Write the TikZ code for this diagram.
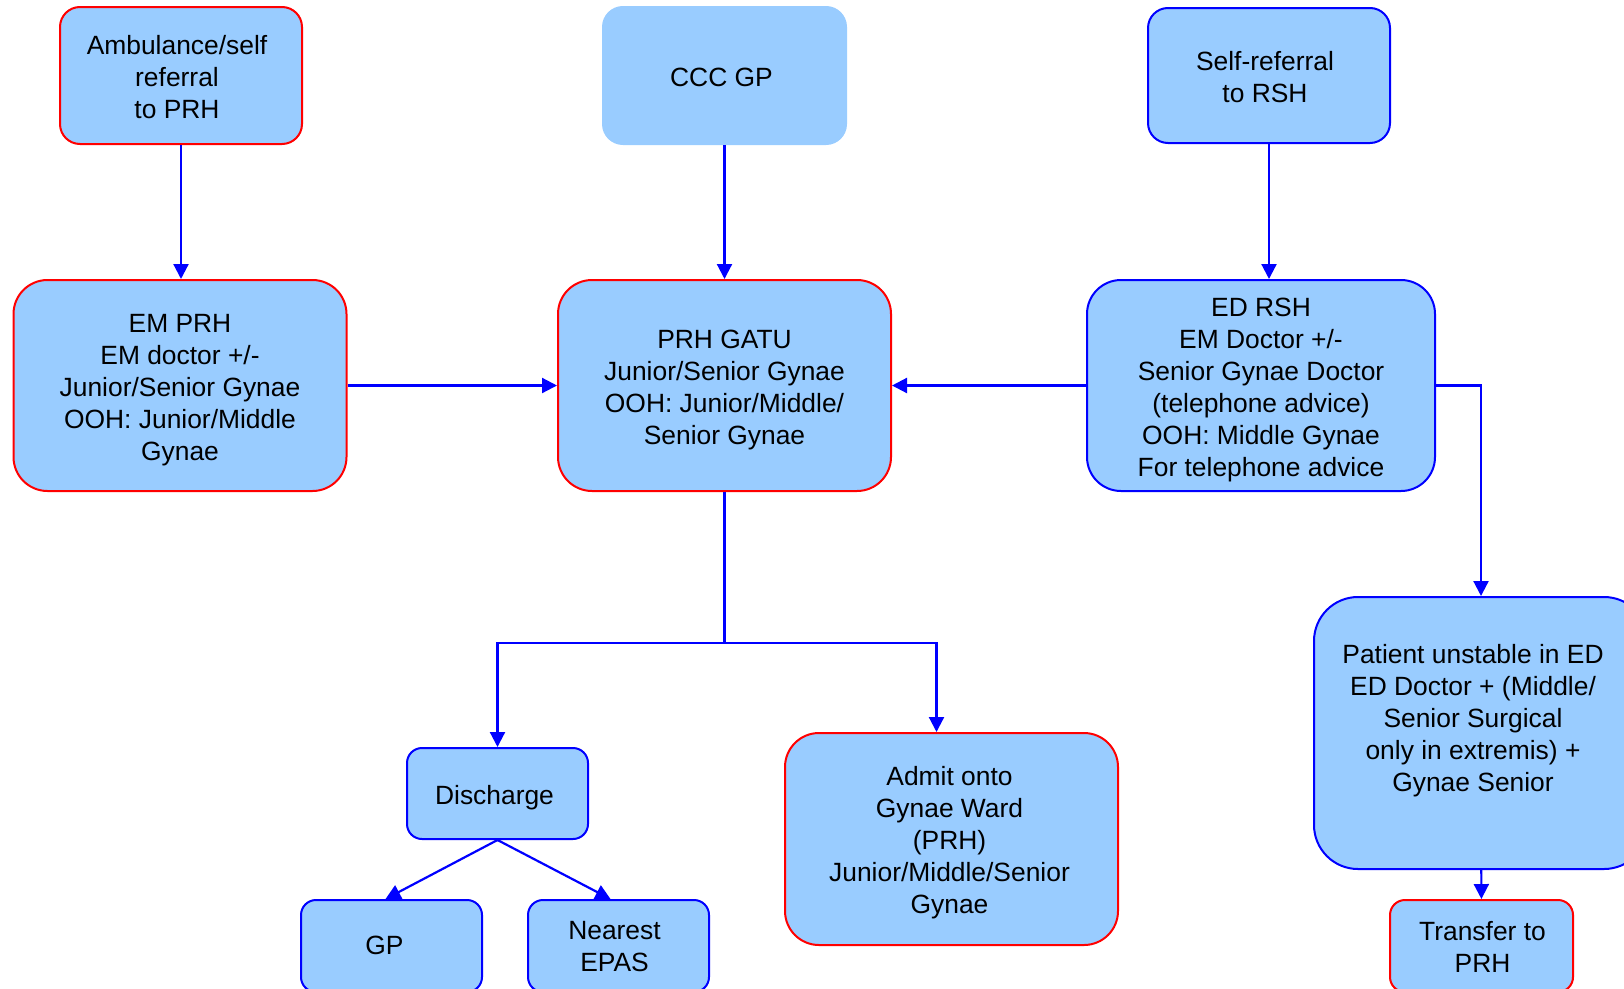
\documentclass[tikz,border=0pt]{standalone}
\usepackage{fontspec}
\setmainfont{Liberation Sans}
\usetikzlibrary{calc}
\usetikzlibrary{arrows.meta}

\definecolor{boxfill}{HTML}{99CCFF}
\definecolor{linkblue}{HTML}{0000FF}
\definecolor{edgered}{HTML}{FF0000}

\tikzset{
	box/.style={rectangle, fill=boxfill, line width=2pt, inner sep=0pt},
	redbox/.style={box, draw=edgered},
	bluebox/.style={box, draw=linkblue},
	boxtext/.style={align=center, inner sep=0pt, font=\fontsize{26.4}{32}\selectfont},
	link/.style={line width=2.2pt, draw=linkblue, -{Triangle[length=15pt,width=15pt]}}
}

\begin{document}
\begin{tikzpicture}[x=1pt,y=-1pt]

						\useasboundingbox (0,0) rectangle (1624,988);

						% top row
						\node[redbox, rounded corners=20pt, minimum width=242pt, minimum height=137pt,
							label={[boxtext, shift={(-4,2)}]center:{Ambulance/self\\referral\\to PRH}}] (amb) at (181,75.5) {};
						\node[box, draw=boxfill, rounded corners=20pt, minimum width=243pt, minimum height=137pt,
							label={[boxtext, shift={(-3,2)}]center:{CCC GP}}] (ccc) at (724.5,75.5) {};
						\node[bluebox, rounded corners=20pt, minimum width=242pt, minimum height=135pt,
							label={[boxtext, shift={(-4,2)}]center:{Self-referral\\to RSH}}] (self) at (1269,75.5) {};

						% middle row
						\node[redbox, rounded corners=34pt, minimum width=333pt, minimum height=211pt,
							label={[boxtext, shift={(0,5)}]center:{EM PRH\\EM doctor +/-\\Junior/Senior Gynae\\OOH: Junior/Middle\\Gynae}}] (emprh) at (180,385.5) {};
						\node[redbox, rounded corners=34pt, minimum width=333pt, minimum height=211pt,
							label={[boxtext, shift={(0,5)}]center:{PRH GATU\\Junior/Senior Gynae\\OOH: Junior/Middle/\\Senior Gynae}}] (gatu) at (724.5,385.5) {};
						\node[bluebox, rounded corners=34pt, minimum width=348pt, minimum height=211pt,
							label={[boxtext, shift={(0,5)}]center:{ED RSH\\EM Doctor +/-\\Senior Gynae Doctor\\(telephone advice)\\OOH: Middle Gynae\\For telephone advice}}] (edrsh) at (1261,385.5) {};

						% bottom
						\node[bluebox, rounded corners=15pt, minimum width=181pt, minimum height=91pt,
							label={[boxtext, shift={(-3,4)}]center:{Discharge}}] (discharge) at (497.5,793.5) {};
						\node[bluebox, rounded corners=15pt, minimum width=181pt, minimum height=92pt,
							label={[boxtext, shift={(-7,-1)}]center:{GP}}] (gp) at (391.5,946) {};
						\node[bluebox, rounded corners=15pt, minimum width=181pt, minimum height=92pt,
							label={[boxtext, shift={(-4,1)}]center:{Nearest\\EPAS}}] (epas) at (618.5,946) {};
						\node[redbox, rounded corners=34pt, minimum width=333pt, minimum height=212pt,
							label={[boxtext, shift={(-2,4)}]center:{Admit onto\\Gynae Ward\\(PRH)\\Junior/Middle/Senior\\Gynae}}] (admit) at (951.5,839) {};
						\node[bluebox, rounded corners=44pt, minimum width=334pt, minimum height=272pt,
							label={[boxtext, shift={(-8,-12)}]center:{Patient unstable in ED\\ED Doctor + (Middle/\\Senior Surgical\\only in extremis) +\\Gynae Senior}}] (unstable) at (1481,733) {};
						\node[redbox, rounded corners=15pt, minimum width=183pt, minimum height=92pt,
							label={[boxtext, shift={(1,1)}]center:{Transfer to\\PRH}}] (transfer) at (1481.5,946) {};

						\coordinate (split) at (724.5,643);

						\draw[link] (amb.south) -- (amb.south |- emprh.north);
						\draw[link] (ccc) -- (gatu);
						\draw[link] (self.south) -- (self.south |- edrsh.north);
						\draw[link] (emprh) -- (gatu);
						\draw[link] (edrsh) -- (gatu);
						\draw[link] (edrsh.east) -| (unstable.north);
						\draw[link] (unstable) -- (transfer);
						\draw[line width=2.2pt, linkblue] (gatu.south) -- (split);
						\draw[link] (split) -| (discharge.north);
						\draw[link] (split) -| ([xshift=-15pt]admit.north);
						\draw[link] (discharge.south) -- ([xshift=-6pt]gp.north);
						\draw[link] (discharge.south) -- ([xshift=-8pt]epas.north);
					\end{tikzpicture}
\end{document}
